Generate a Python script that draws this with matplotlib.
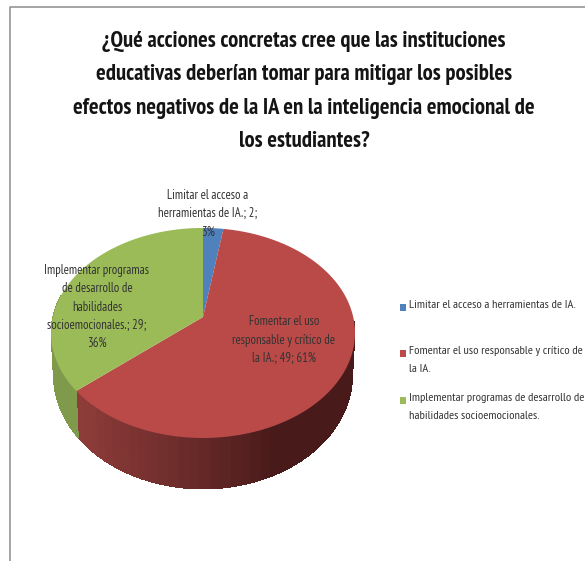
import numpy as np
import matplotlib
matplotlib.use("Agg")
import matplotlib.pyplot as plt
from matplotlib import font_manager as fm
from matplotlib.patches import Rectangle

TITLE = ("¿Qué acciones concretas cree que las instituciones\n"
         "educativas deberían tomar para mitigar los posibles\n"
         "efectos negativos de la IA en la inteligencia emocional de\n"
         "los estudiantes?")
categories = ["Limitar el acceso a herramientas de IA.",
              "Fomentar el uso responsable y crítico de la IA.",
              "Implementar programas de desarrollo de habilidades socioemocionales."]
values = [2, 49, 29]
percents = [3, 61, 36]
colors = ["#4f81bd", "#b94a48", "#9bbb59"]
side_left = ["#3a6090", "#8e3c3a", "#7f9a4a"]
side_right = ["#2c4a70", "#481a1a", "#7f9a4a"]
label_text = ["Limitar el acceso a\nherramientas de IA.; 2;\n3%",
              "Fomentar el uso\nresponsable y crítico de\nla IA.; 49; 61%",
              "Implementar programas\nde desarrollo de\nhabilidades\nsocioemocionales.; 29;\n36%"]
legend_text = ["Limitar el acceso a herramientas de IA.",
               "Fomentar el uso responsable y crítico de\nla IA.",
               "Implementar programas de desarrollo de\nhabilidades socioemocionales."]

installed = {f.name for f in fm.fontManager.ttflist}
FONT = [f for f in ["PT Sans Narrow", "Lato", "Liberation Sans", "DejaVu Sans"] if f in installed]
plt.rcParams["font.family"] = FONT

fig = plt.figure(figsize=(5.85, 5.61), dpi=100, facecolor="white")
ax = fig.add_axes([0, 0, 1, 1])
ax.set_xlim(0, 585)
ax.set_ylim(561, 0)
ax.axis("off")
renderer = fig.canvas.get_renderer()


def fitted(sample, width_px, weight="normal"):
    """Font size at which the sample line is width_px wide, and the 'lp' height at that size."""
    t = fig.text(0, 0, sample, fontsize=10, fontweight=weight)
    w = t.get_window_extent(renderer).width
    size = 10 * width_px / w
    t.set_fontsize(size)
    t.set_text("lp")
    h = t.get_window_extent(renderer).height
    t.remove()
    return size, h


CX, CY = 203.0, 317.0
A, B, K = 102.6, 150.2, 0.152
SX, SY, DY = 0.984, 1.085, 40.7


def top(phi):
    d = 1 + K * np.cos(phi)
    return CX + B * np.sin(phi) / d, CY - A * np.cos(phi) / d


def bottom(phi):
    d = 1 + K * np.cos(phi)
    return CX + SX * B * np.sin(phi) / d, CY + DY - SY * A * np.cos(phi) / d


def mix(c1, c2, t):
    a, b = matplotlib.colors.to_rgb(c1), matplotlib.colors.to_rgb(c2)
    return tuple((1 - t) * x + t * y for x, y in zip(a, b))


edges = np.concatenate([[0], np.cumsum(values)]) / np.sum(values) * 2 * np.pi

# extruded side, only the front half faces the viewer
for i in range(len(values)):
    lo, hi = max(edges[i], np.radians(92)), min(edges[i + 1], np.radians(282))
    if hi <= lo:
        continue
    n = 40
    steps = np.linspace(lo, hi, n + 1)
    for j in range(n):
        p = np.linspace(steps[j], steps[j + 1] + 0.01, 4)
        tx, ty = top(p)
        bx, by = bottom(p)
        t = np.clip((hi - p[1]) / np.radians(74.5), 0, 1) ** 1.3
        c = mix(side_left[i], side_right[i], t)
        ax.fill(np.r_[tx, bx[::-1]], np.r_[ty, by[::-1]], color=c, lw=0, zorder=2,
                antialiased=False)

# top face
for i in range(len(values)):
    p = np.linspace(edges[i], edges[i + 1], 200)
    x, y = top(p)
    ax.fill(np.r_[CX, x], np.r_[CY, y], color=colors[i], lw=0, zorder=3)

# frame
ax.plot([10, 10, 585], [561, 7, 7], color="#8c8c8c", lw=1.1, zorder=1)

size, h = fitted("efectos negativos de la IA en la inteligencia emocional de", 462, "bold")
ax.text(304, 91.5, TITLE, ha="center", va="center", fontsize=size, fontweight="bold",
        color="#141414", linespacing=37.5 / h, zorder=6)

size, h = fitted("Limitar el acceso a herramientas de IA.", 169)
label_pos = [(208, 213.5), (284, 340), (97, 307)]
for s, (x, y) in zip(label_text, label_pos):
    ax.text(x, y, s, ha="center", va="center", fontsize=size, color="#333333",
            linespacing=20 / h, zorder=6)

size, h = fitted("Limitar el acceso a herramientas de IA.", 167)
legend_y = [307, 353, 400]
for c, s, y in zip(colors, legend_text, legend_y):
    ax.add_patch(Rectangle((400, y - 3.5), 6, 7, facecolor=c, lw=0, zorder=5))
    ax.text(409, y - 7, s, ha="left", va="top", fontsize=size, color="#333333",
            linespacing=20 / h, zorder=6)

fig.savefig("out.png", dpi=100)
